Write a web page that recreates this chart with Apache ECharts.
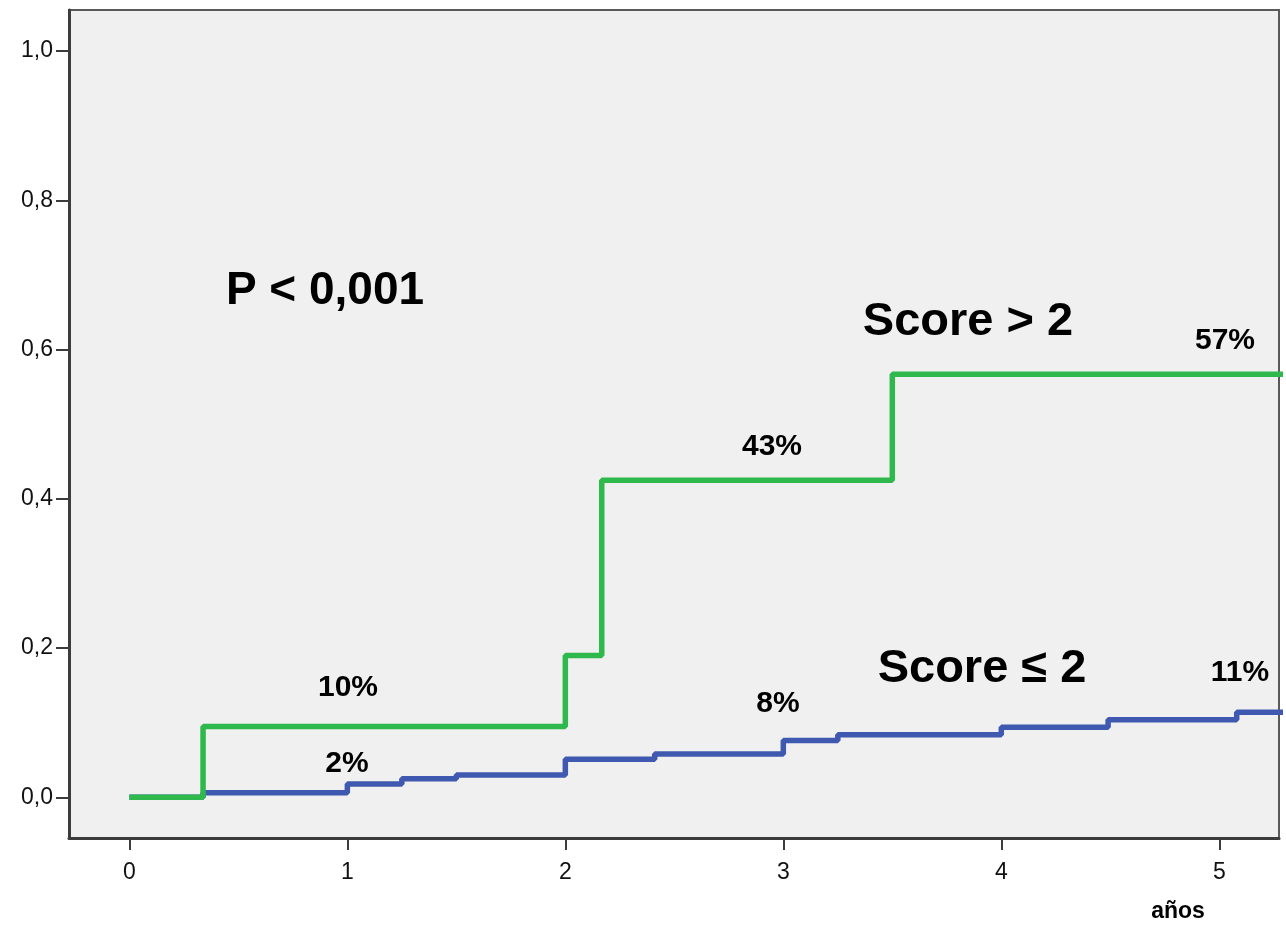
<!DOCTYPE html>
<html>
<head>
<meta charset="utf-8">
<script src="https://cdn.jsdelivr.net/npm/echarts@6/dist/echarts.min.js"></script>
<style>
  html, body { margin: 0; padding: 0; background: #ffffff; }
  #chart { width: 1286px; height: 926px; }
</style>
</head>
<body>
<div id="chart"></div>
<script>
// Incidencia acumulada (Kaplan-Meier) por grupo de score
const tiempoScoreAlto = [0, 0.338, 2.0, 2.167, 3.5, 5.3];
const incidenciaScoreAlto = [0, 0.095, 0.19, 0.425, 0.567, 0.567];

const tiempoScoreBajo = [0, 0.338, 1.0, 1.25, 1.5, 2.0, 2.41, 3.0, 3.25, 4.0, 4.49, 5.08, 5.3];
const incidenciaScoreBajo = [0, 0.006, 0.018, 0.025, 0.030, 0.051, 0.058, 0.076, 0.084, 0.094, 0.104, 0.114, 0.114];

const ticksX = [0, 1, 2, 3, 4, 5];
const ticksY = [0, 0.2, 0.4, 0.6, 0.8, 1.0];

const FONT = "'Liberation Sans', Arial, sans-serif";

const pares = (xs, ys) => xs.map((x, i) => [x, ys[i]]);

const chart = echarts.init(document.getElementById('chart'), null, { renderer: 'canvas' });

function texto(txt, x, y, size) {
  return {
    type: 'text',
    z: 100,
    style: {
      text: txt,
      x: x,
      y: y,
      textAlign: 'center',
      textVerticalAlign: 'middle',
      fill: '#000000',
      font: 'bold ' + size + 'px ' + FONT
    }
  };
}

chart.setOption({
  animation: false,
  backgroundColor: '#ffffff',
  grid: {
    left: 69, top: 10, right: 7, bottom: 88,
    show: true,
    backgroundColor: '#f0f0f0',
    borderColor: '#5a5a5a',
    borderWidth: 2
  },
  xAxis: {
    type: 'value',
    min: -0.277,
    max: 5.274,
    splitLine: { show: false },
    axisLine: { show: true, onZero: false, lineStyle: { color: '#3c3c3c', width: 3 } },
    axisTick: { show: true, customValues: ticksX, length: 12, lineStyle: { color: '#3c3c3c', width: 2 } },
    axisLabel: {
      customValues: ticksX,
      margin: 23,
      color: '#111111',
      fontFamily: FONT,
      fontSize: 23,
      formatter: v => String(v)
    }
  },
  yAxis: {
    type: 'value',
    min: -0.0545,
    max: 1.055,
    splitLine: { show: false },
    axisLine: { show: true, onZero: false, lineStyle: { color: '#3c3c3c', width: 3 } },
    axisTick: { show: true, customValues: ticksY, length: 13, lineStyle: { color: '#3c3c3c', width: 2 } },
    axisLabel: {
      customValues: ticksY,
      margin: 16,
      color: '#111111',
      fontFamily: FONT,
      fontSize: 23,
      formatter: v => v.toFixed(1).replace('.', ',')
    }
  },
  series: [
    {
      name: 'Score ≤ 2',
      type: 'line',
      step: 'end',
      symbol: 'none',
      clip: true,
      data: pares(tiempoScoreBajo, incidenciaScoreBajo),
      lineStyle: { color: '#3f58b0', width: 5.5 }
    },
    {
      name: 'Score > 2',
      type: 'line',
      step: 'end',
      symbol: 'none',
      clip: true,
      data: pares(tiempoScoreAlto, incidenciaScoreAlto),
      lineStyle: { color: '#2fb84c', width: 5.5 }
    }
  ],
  graphic: [
    texto('P < 0,001', 325, 291, 46),
    texto('Score > 2', 968, 322, 47),
    texto('Score ≤ 2', 982, 669, 47),
    texto('57%', 1225, 341, 30),
    texto('43%', 772, 447, 30),
    texto('10%', 348, 688, 30),
    texto('2%', 347, 764, 30),
    texto('8%', 778, 704, 30),
    texto('11%', 1240, 673, 30),
    texto('años', 1178, 912, 23)
  ]
});
</script>
</body>
</html>
